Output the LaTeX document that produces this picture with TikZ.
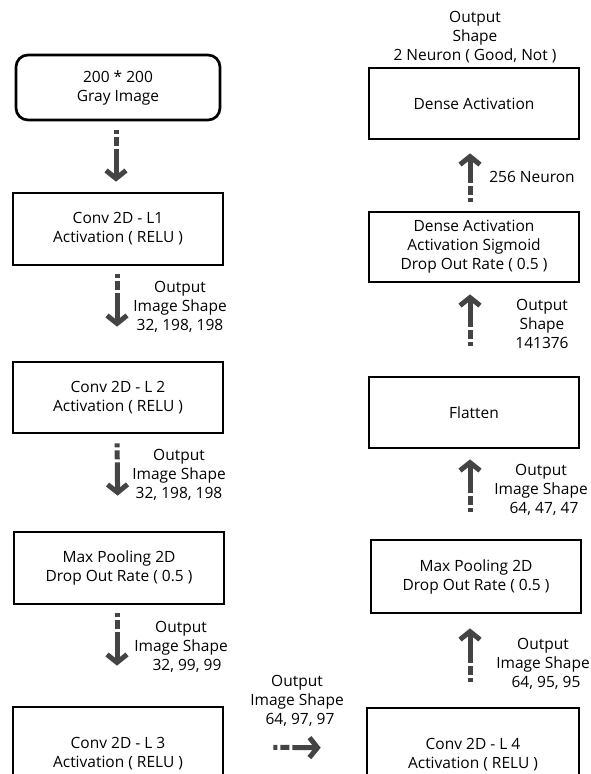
\documentclass[tikz,border=0pt]{standalone}
\usepackage{fontspec}
\setmainfont{Open Sans}
\usetikzlibrary{arrows.meta,calc}
\definecolor{arrowgray}{HTML}{444444}
\begin{document}
\begin{tikzpicture}[x=1pt,y=-1pt,
  box/.style={draw=black, line width=2.7pt, minimum width=210pt, align=center, inner sep=0pt, font=\fontsize{15.5}{19}\selectfont},
  lbl/.style={align=center, font=\fontsize{15.5}{19}\selectfont, inner sep=0pt},
  flow/.style={draw=arrowgray, line width=5pt, dash pattern=on 4pt off 3pt on 9pt off 3pt on 300pt, -{Straight Barb[length=8pt,width=20pt]}}
]
\useasboundingbox (0,0) rectangle (591,774);
\clip (0,0) rectangle (591,774);
\fill[white] (0,0) rectangle (591,774);

% left column
\node[box, rounded corners=12pt, minimum width=204pt, minimum height=65pt] (gray) at (118,87.5) {200 * 200\\Gray Image};
\node[box, minimum height=72pt] (l1) at (118,229) {Conv 2D - L1\\Activation ( RELU )};
\node[box, minimum height=71pt] (l2) at (118,397.5) {Conv 2D - L 2\\Activation ( RELU )};
\node[box, minimum height=72pt] (mpl) at (119,568) {Max Pooling 2D\\Drop Out Rate ( 0.5 )};
\node[box, minimum height=94pt] (l3) at (118,754) {Conv 2D - L 3\\Activation ( RELU )};

% right column
\node[box, minimum width=212pt, minimum height=94pt] (l4) at (473,755) {Conv 2D - L 4\\Activation ( RELU )};
\node[box, minimum height=73pt] (mpr) at (476,576.5) {Max Pooling 2D\\Drop Out Rate ( 0.5 )};
\node[box, minimum height=71pt] (flat) at (474,412.5) {Flatten};
\node[box, minimum height=70pt] (sig) at (474,247) {Dense Activation\\Activation Sigmoid\\Drop Out Rate ( 0.5 )};
\node[box, minimum height=71pt] (dense) at (474,103.5) {Dense Activation};

% labels
\node[lbl] (t0) at (475,37) {Output\\Shape\\2 Neuron ( Good, Not )};
\node[lbl] (t1) at (532,177) {256 Neuron};
\node[lbl] (t2) at (542,324) {Output\\Shape\\141376};
\node[lbl] (t3) at (541,490) {Output\\Image Shape\\\hspace*{6pt}64, 47, 47};
\node[lbl] (t4) at (543,664) {Output\\Image Shape\\\hspace*{6pt}64, 95, 95};
\node[lbl] (t5) at (180,307) {Output\\Image Shape\\32, 198, 198};
\node[lbl] (t6) at (179,475) {Output\\Image Shape\\32, 198, 198};
\node[lbl] (t7) at (181,647) {Output\\Image Shape\\\hspace*{12pt}32, 99, 99};
\node[lbl] (t8) at (297,701) {Output\\Image Shape\\\hspace*{6pt}64, 97, 97};

% arrows down
\draw[flow, shorten <=9pt, shorten >=10pt] ([xshift=-2pt]gray.south) -- ([xshift=-2pt]l1.north);
\draw[flow, shorten <=8pt, shorten >=34pt] ([xshift=-1pt]l1.south) -- ([xshift=-1pt]l2.north);
\draw[flow, shorten <=9pt, shorten >=35pt] ([xshift=-1pt]l2.south) -- ([xshift=-1pt]mpl.north);
\draw[flow, shorten <=8pt, shorten >=40pt] ([xshift=-2pt]mpl.south) -- ([xshift=-1pt]l3.north);
% horizontal
\draw[flow, shorten <=49pt, shorten >=45pt] ([yshift=7pt]l3.east) -- ([yshift=7pt]l4.west);
% arrows up
\draw[flow, shorten <=25pt, shorten >=14pt] ([xshift=-3pt]l4.north) -- ([xshift=-6pt]mpr.south);
\draw[flow, shorten <=27pt, shorten >=10pt] ([xshift=-6pt]mpr.north) -- ([xshift=-4pt]flat.south);
\draw[flow, shorten <=30pt, shorten >=11pt] ([xshift=-4pt]flat.north) -- ([xshift=-4pt]sig.south);
\draw[flow, shorten <=9pt, shorten >=13pt] ([xshift=-4pt]sig.north) -- ([xshift=-4pt]dense.south);
\end{tikzpicture}
\end{document}
